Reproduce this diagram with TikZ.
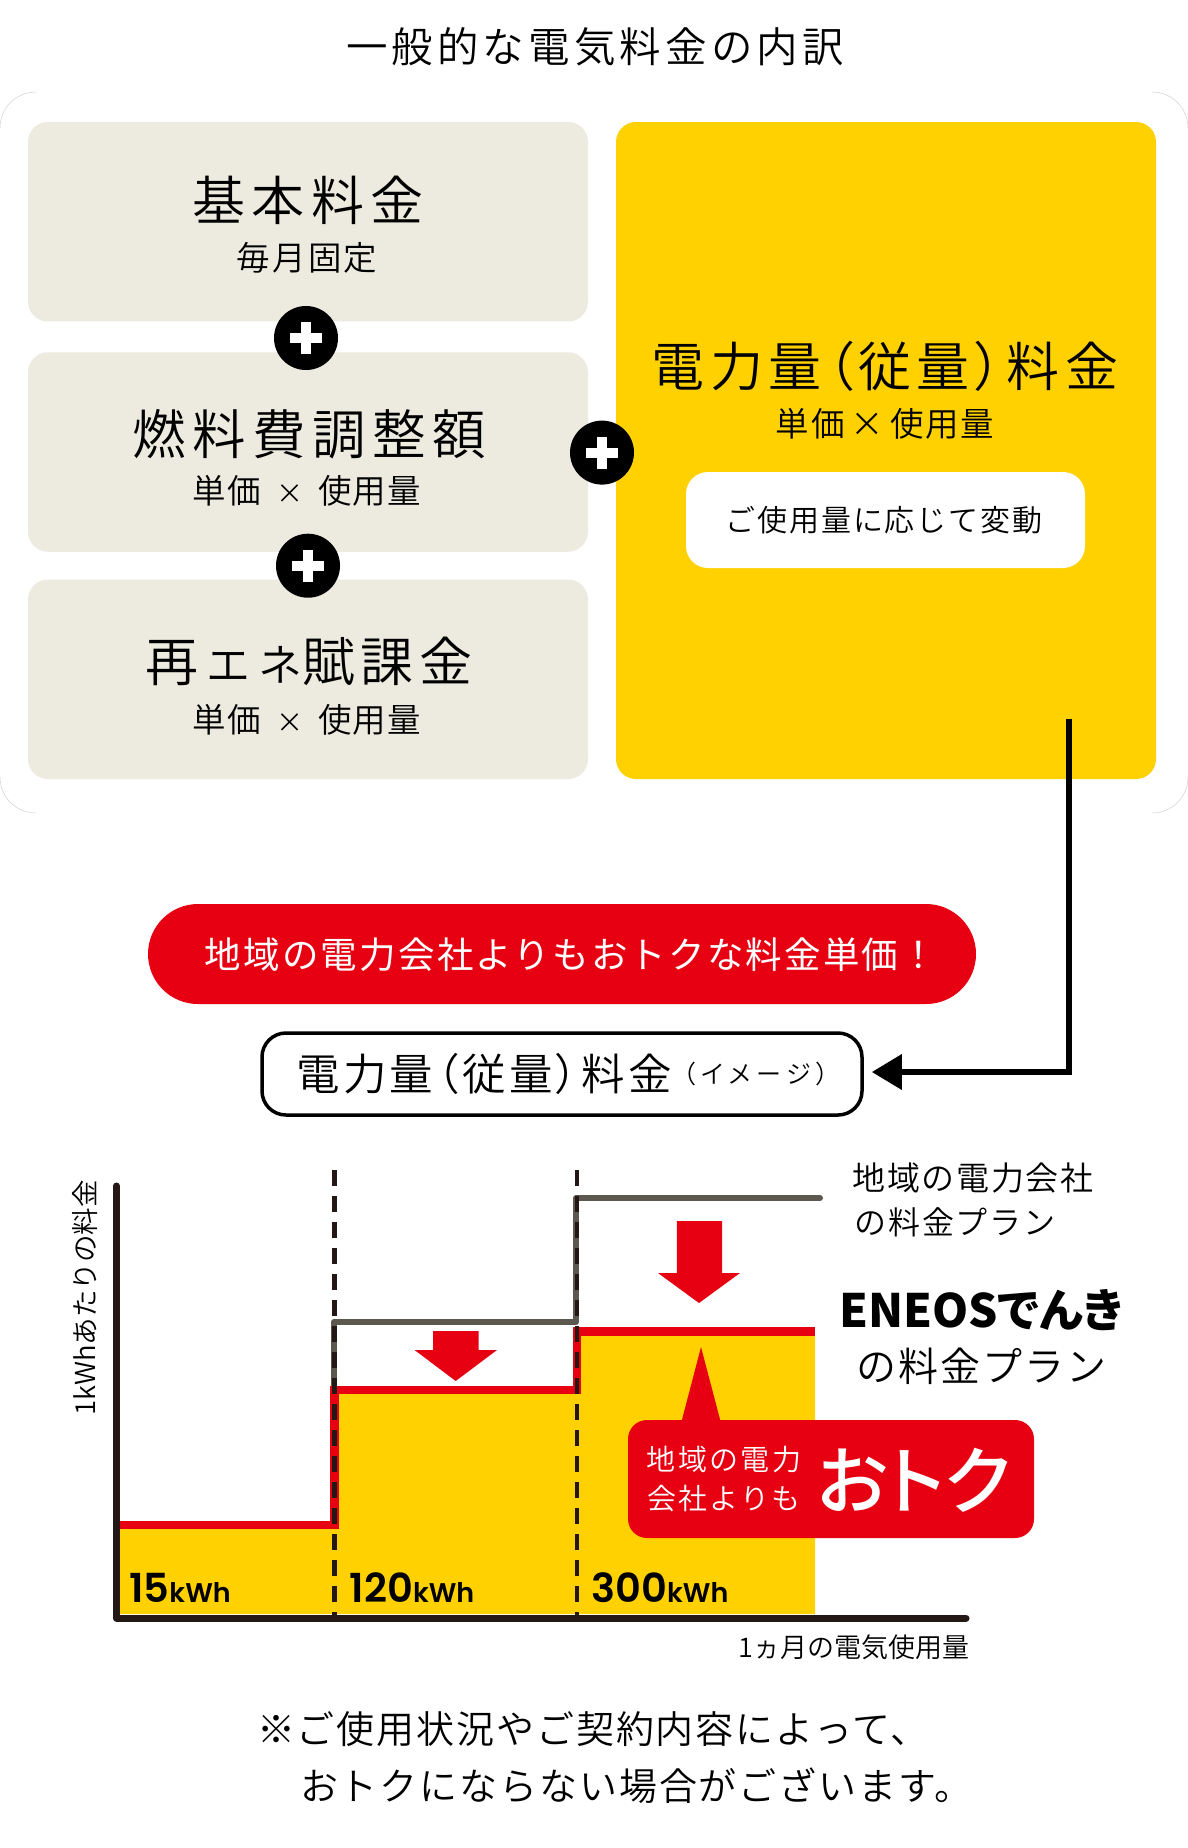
\documentclass[tikz,border=0pt]{standalone}
\usepackage{fontspec}
\usetikzlibrary{arrows.meta}
\setmainfont[UprightFont={* DemiLight},BoldFont={* Bold}]{Noto Sans CJK JP}
\newfontfamily\jpp[UprightFont={* DemiLight},RawFeature={+palt}]{Noto Sans CJK JP}
\newfontfamily\jpreg{Noto Sans CJK JP}
\newfontfamily\jpmed[UprightFont={* Medium},RawFeature={+palt}]{Noto Sans CJK JP}
\newfontfamily\jpheavy[UprightFont={* Black},RawFeature={+palt}]{Noto Sans CJK JP}
\newfontfamily\numfont[BoldFont={* SemiBold}]{Poppins}
\newcommand{\jt}[3][0]{{\fontsize{#2}{#2}\selectfont\addfontfeature{LetterSpace=#1}#3}}
\definecolor{beige}{HTML}{EDEBE0}
\definecolor{yell}{HTML}{FFD100}
\definecolor{redd}{HTML}{E60012}
\definecolor{ink}{HTML}{231815}
\definecolor{greyl}{HTML}{5C5850}
\tikzset{
  txt/.style={inner sep=0pt,outer sep=0pt,text=black,anchor=center},
  wtxt/.style={txt,text=white},
  beigebox/.style={fill=beige,rounded corners=20pt,inner sep=0pt,minimum width=560pt,minimum height=199.5pt},
  plusdisc/.style={circle,fill=black,inner sep=0pt,minimum size=64pt},
  plusbar/.style={fill=white,draw=none},
  axisline/.style={line width=7pt,ink,line cap=round},
  dashline/.style={line width=4.5pt,ink,dash pattern=on 16pt off 10pt},
  redstep/.style={line width=8.6pt,redd},
  greystep/.style={line width=6pt,greyl,line join=round},
  redarrow/.style={fill=redd,draw=none},
  cornerarc/.style={draw=black!18,line width=0.5pt},
}
\begin{document}
\begin{tikzpicture}[x=1pt,y=-1pt]
\useasboundingbox (0,0) rectangle (1188,1848);
\fill[white] (0,0) rectangle (1188,1848);
% title
\node[txt] (title) at (595,47) {\jt[10]{41.5}{一般的な電気料金の内訳}};
% panel corners
\draw[cornerarc] (0,128) .. controls (0,108) and (16,92) .. (36,92);
\draw[cornerarc] (1152,92) .. controls (1172,92) and (1188,108) .. (1188,128);
\draw[cornerarc] (0,777) .. controls (0,797) and (16,813) .. (36,813);
\draw[cornerarc] (1152,813) .. controls (1172,813) and (1188,797) .. (1188,777);
% beige boxes
\node[beigebox] (b1) at (308,221.7) {};
\node[beigebox] (b2) at (308,452) {};
\node[beigebox] (b3) at (308,679.3) {};
\node[fill=yell,rounded corners=20pt,inner sep=0pt,minimum width=540pt,minimum height=657pt] (ybox) at (886,450.5) {};
\node[txt] (b1a) at (308,200) {\jt[12]{53}{基本料金}};
\node[txt] (b1b) at (307,258) {\jt[6]{33.5}{毎月固定}};
\node[txt] (b2a) at (309,434) {\jt[12]{53.5}{燃料費調整額}};
\node[txt] (b2b) at (307,490.5) {\jt[4]{33.5}{単価}\hspace{15pt}\jt{27}{×}\hspace{15pt}\jt[4]{33.5}{使用量}};
\node[txt] (b3a) at (309,661) {\jt{53}{再}\hspace{8pt}\jt[18]{44}{エネ}\jt[11]{53}{賦課金}};
\node[txt] (b3b) at (307,720) {\jt[4]{33.5}{単価}\hspace{15pt}\jt{27}{×}\hspace{15pt}\jt[4]{33.5}{使用量}};
\node[txt] (ya) at (885,366) {{\jpp\jt[10]{53}{電力量（従量）料金}}};
\node[txt] (yb) at (885,424) {\jt[5]{33.5}{単価\hspace{6pt}×\hspace{6pt}使用量}};
\node[fill=white,rounded corners=22pt,inner sep=0pt,minimum width=399pt,minimum height=96pt] (wbox) at (885.5,520) {};
\node[txt] (wt) at (884,520) {\jt[6]{30}{ご使用量に応じて変動}};
% plus discs
\foreach \n/\x/\y in {p1/306/338,p2/308/565.7,p3/602/452.6}{
  \node[plusdisc] (\n) at (\x,\y) {};
  \fill[plusbar] (\n.center) ++(-16,-5) rectangle ++(32,10);
  \fill[plusbar] (\n.center) ++(-5,-16) rectangle ++(10,32);
}
% red pill and outline title
\node[fill=redd,rounded corners=50pt,inner sep=0pt,minimum width=828pt,minimum height=100pt] (pill) at (562,954) {};
\node[wtxt] (pillt) at (571,955) {{\jpreg\jt[6]{36.5}{地域の電力会社よりもおトクな料金単価！}}};
\node[draw=black,line width=3.5pt,fill=white,rounded corners=24pt,inner sep=0pt,minimum width=600pt,minimum height=82pt] (imgbox) at (562,1074) {};
\node[txt] (imga) at (484,1074) {{\jpp\jt[8]{43.5}{電力量（従量）料金}}};
\node[txt] (imgb) at (756,1074) {{\jpp\jt[22]{25}{（イメージ）}}};
% connector
\coordinate (cstart) at (1069,719);
\coordinate (cbend) at (1069,1072);
\draw[line width=6.5pt,black,line join=miter,shorten >=8pt,-{Triangle[length=30pt,width=34pt]}] (cstart) -- (cbend) -- (imgbox.east |- cbend);
% chart fills
\fill[yell] (120,1529) -- (334,1529) -- (334,1394) -- (577,1394) -- (577,1336) -- (815,1336) -- (815,1614) -- (120,1614) -- cycle;
% grey line
\draw[greystep,line cap=round] (334,1385) -- (334,1322) -- (576,1322) -- (576,1198) -- (820,1198);
% red line
\draw[redstep,line join=miter] (120,1525) -- (334.3,1525) -- (334.3,1390) -- (577,1390) -- (577,1331.5) -- (815,1331.5);
% dashed
\coordinate (d1t) at (334.6,1170); \coordinate (d1b) at (334.6,1618);
\coordinate (d2t) at (577,1170); \coordinate (d2b) at (577,1618);
\draw[dashline] (d1t) -- (d1b);
\draw[dashline] (d2t) -- (d2b);
% axes
\coordinate (ax1) at (116.5,1186); \coordinate (ax0) at (116.5,1618); \coordinate (ax2) at (966,1618);
\draw[axisline,line join=round] (ax1) -- (ax0) -- (ax2);
% arrows
\fill[redarrow] (433,1331) -- (478.6,1331) -- (478.6,1350) -- (497,1350) -- (455.7,1381) -- (414.6,1350) -- (433,1350) -- cycle;
\fill[redarrow] (676.8,1221) -- (722,1221) -- (722,1273) -- (740,1273) -- (699,1303) -- (658,1273) -- (676.8,1273) -- cycle;
% callout
\fill[redarrow] (681.4,1422) -- (701,1347) -- (720.7,1422) -- cycle;
\node[fill=redd,rounded corners=19pt,inner sep=0pt,minimum width=406pt,minimum height=118pt] (call) at (831,1479) {};
\node[wtxt] (call1) at (724,1460) {\jt[8]{29}{地域の電力}};
\node[wtxt] (call2) at (724,1499) {\jt[8]{29}{会社よりも}};
\node[wtxt] (call3) at (914,1480) {{\jpmed\jt[0]{74}{おトク}}};
% chart labels
\node[txt] (l1) at (973,1178) {\jt[5]{33}{地域の電力会社}};
\node[txt] (l2) at (955,1222) {\jt[6]{32}{の料金プラン}};
\node[txt] (l3) at (981,1310) {{\jpheavy\jt[0]{46}{ENEOSでんき}}};
\node[txt] (l4) at (981,1366) {\jt[5]{40}{の料金プラン}};
\node[txt] (k1) at (180,1588) {{\numfont\bfseries\jt{40}{15}\jt{27}{kWh}}};
\node[txt] (k2) at (412,1588) {{\numfont\bfseries\jt{40}{120}\jt{27}{kWh}}};
\node[txt] (k3) at (660,1588) {{\numfont\bfseries\jt{40}{300}\jt{27}{kWh}}};
\node[txt,rotate=90] (ylab) at (85,1298) {\jt[0]{27.5}{1kWhあたりの料金}};
\node[txt] (xlab) at (854,1647) {\jt[0]{27}{1ヵ月の電気使用量}};
% footnote
\node[txt,anchor=west] (f1) at (257,1729) {\jt[5]{38}{※ご使用状況やご契約内容によって、}};
\node[txt,anchor=west] (f2) at (300,1786) {\jt[5]{38}{おトクにならない場合がございます。}};
\end{tikzpicture}
\end{document}
